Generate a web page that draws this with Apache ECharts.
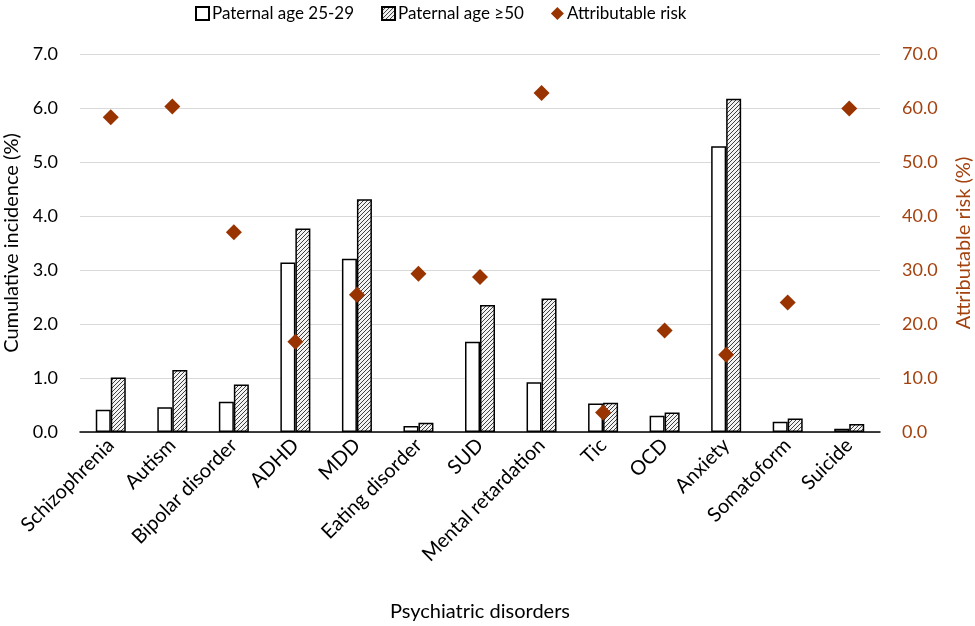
<!DOCTYPE html>
<html>
<head>
<meta charset="utf-8">
<script src="https://cdn.jsdelivr.net/npm/echarts@6/dist/echarts.min.js"></script>
<style>
html,body{margin:0;padding:0;background:#fff;}
#chart{width:975px;height:626px;}
</style>
</head>
<body>
<div id="chart"></div>
<script>
const categories = ['Schizophrenia','Autism','Bipolar disorder','ADHD','MDD','Eating disorder','SUD','Mental retardation','Tic','OCD','Anxiety','Somatoform','Suicide'];
const age2529 = [0.41,0.46,0.56,3.14,3.21,0.11,1.67,0.92,0.53,0.30,5.29,0.19,0.06];
const age50 = [1.01,1.15,0.88,3.77,4.31,0.17,2.35,2.47,0.54,0.36,6.17,0.25,0.15];
const attributableRisk = [58.3,60.3,37.0,16.7,25.4,29.3,28.7,62.8,3.6,18.8,14.3,24.0,59.9];
const leftTicks = [0,1,2,3,4,5,6,7];
const rightTicks = [0,10,20,30,40,50,60,70];

function makeHatch(){
  const c = document.createElement('canvas');
  c.width = 4; c.height = 4;
  const ctx = c.getContext('2d');
  ctx.fillStyle = '#f2f2f2';
  ctx.fillRect(0,0,4,4);
  ctx.strokeStyle = '#404040';
  ctx.lineWidth = 1;
  ctx.beginPath();
  ctx.moveTo(-1,5); ctx.lineTo(5,-1);
  ctx.moveTo(-1,1); ctx.lineTo(1,-1);
  ctx.moveTo(3,5); ctx.lineTo(5,3);
  ctx.stroke();
  return c;
}
const hatch = {image: makeHatch(), repeat: 'repeat'};
const FONT = 'Lato';
const RED = '#993300';
const RIGHTC = '#a4420f';
const chart = echarts.init(document.getElementById('chart'));
chart.setOption({
  animation: false,
  textStyle: {fontFamily: FONT},
  legend: {
    top: 0, left: 190, itemGap: 27, itemWidth: 13, itemHeight: 13,
    textStyle: {fontFamily: FONT, fontSize: 17, color: '#000', padding: [0,0,0,-2]},
    data: [
      {name: 'Paternal age 25-29', icon: 'rect'},
      {name: 'Paternal age \u226550', icon: 'rect'},
      {name: 'Attributable risk', icon: 'diamond'}
    ]
  },
  grid: {left: 80, right: 95, top: 54, bottom: 194, containLabel: false, outerBoundsMode: 'none'},
  xAxis: {
    type: 'category', data: categories,
    axisLine: {lineStyle: {color: '#000', width: 1.5}},
    axisTick: {show: false},
    axisLabel: {rotate: 45, fontSize: 20, color: '#000', margin: 10, interval: 0, fontFamily: FONT},
    name: 'Psychiatric disorders', nameLocation: 'middle', nameGap: 170,
    nameTextStyle: {fontSize: 20, color: '#000', fontFamily: FONT}
  },
  yAxis: [
    {
      type: 'value', min: leftTicks[0], max: leftTicks[leftTicks.length-1], interval: 1,
      axisLine: {show: false}, axisTick: {show: false},
      splitLine: {lineStyle: {color: '#d9d9d9', width: 1.2}},
      axisLabel: {formatter: v => v.toFixed(1), fontSize: 18, color: '#000', margin: 22, fontFamily: FONT},
      name: 'Cumulative incidence (%)', nameLocation: 'middle', nameRotate: 90, nameGap: 56,
      nameTextStyle: {fontSize: 20, color: '#000', fontFamily: FONT}
    },
    {
      type: 'value', min: rightTicks[0], max: rightTicks[rightTicks.length-1], interval: 10,
      axisLine: {show: false}, axisTick: {show: false}, splitLine: {show: false},
      axisLabel: {formatter: v => v.toFixed(1), fontSize: 18, color: RIGHTC, margin: 22, fontFamily: FONT},
      name: 'Attributable risk (%)', nameLocation: 'middle', nameRotate: 90, nameGap: 74,
      nameTextStyle: {fontSize: 20, color: RIGHTC, fontFamily: FONT}
    }
  ],
  series: [
    {
      name: 'Paternal age 25-29', type: 'bar', data: age2529, barWidth: 15, barGap: '0%',
      itemStyle: {color: '#fff', borderColor: '#000', borderWidth: 1.5}
    },
    {
      name: 'Paternal age \u226550', type: 'bar', data: age50, barWidth: 15, barGap: '0%',
      itemStyle: {color: hatch, borderColor: '#000', borderWidth: 1.5}
    },
    {
      name: 'Attributable risk', type: 'scatter', yAxisIndex: 1, data: attributableRisk,
      symbol: 'diamond', symbolSize: 16, z: 5,
      itemStyle: {color: RED, opacity: 1}
    }
  ]
});
</script>
</body>
</html>
